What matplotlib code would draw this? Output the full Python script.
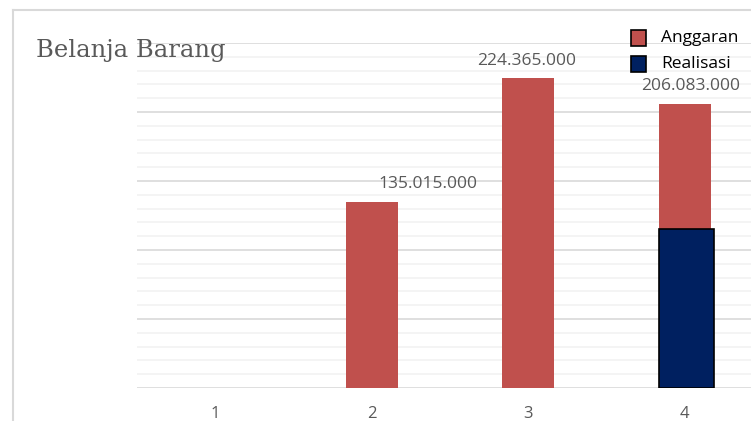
import numpy as np
import matplotlib.pyplot as plt
from matplotlib.patches import Rectangle
from matplotlib.lines import Line2D

# data
kategori = ['1', '2', '3', '4']
anggaran = [0, 135015000, 224365000, 206083000]
realisasi = [0, 0, 0, 115000000]
label_anggaran = ['', '135.015.000', '224.365.000', '206.083.000']

W, H = 751, 421
fig = plt.figure(figsize=(W / 100, H / 100), dpi=100)

# outer chart border (only left and top visible in the crop)
fig.add_artist(Line2D([13 / W, 13 / W], [0, 1 - 10 / H], color='#D9D9D9', lw=1.5))
fig.add_artist(Line2D([13 / W, 1], [1 - 10 / H, 1 - 10 / H], color='#D9D9D9', lw=1.5))

left, right = 137 / W, 763 / W
bottom, top = (H - 388) / H, (H - 43) / H
ax = fig.add_axes([left, bottom, right - left, top - bottom])

x = np.arange(len(kategori))
ax.set_xlim(-0.5, len(kategori) - 0.5)
ax.set_ylim(0, 250000000)

# gridlines
for v in np.arange(0, 250000001, 10000000):
    major = v % 50000000 == 0
    ax.axhline(v, color='#D9D9D9' if major else '#F2F2F2', lw=1.2, zorder=0)

bw = 0.33
ax.bar(x, anggaran, width=bw, color='#C0504D', zorder=2)
# realisasi only where there is a value, same left edge, slightly wider
xr = [xi for xi, r in zip(x, realisasi) if r > 0]
vr = [r for r in realisasi if r > 0]
ax.bar(np.array(xr) - bw / 2, vr, width=0.35, align='edge', color='#002060',
       edgecolor='black', lw=1.2, zorder=3)

# data labels (positions as moved in the original)
dx = [0, 0.36, -0.01, 0.04]
for i, t in enumerate(label_anggaran):
    if t:
        ax.text(x[i] + dx[i], anggaran[i] + 7000000, t, ha='center', va='bottom',
                fontsize=12.5, color='#595959', family='Open Sans')

for s in ax.spines.values():
    s.set_visible(False)
ax.set_yticks([])
ax.set_xticks(x)
ax.set_xticklabels(kategori, fontsize=12, color='#595959', family='Open Sans')
ax.tick_params(axis='x', length=0, pad=13)

fig.text(36 / W, 1 - 50 / H, 'Belanja Barang', fontsize=17.5, color='#595959',
         family='DejaVu Serif', va='center', ha='left')

# legend
for yy, col, lab, cx in [(38, '#C0504D', 'Anggaran', 699.5), (64, '#002060', 'Realisasi', 696)]:
    fig.add_artist(Rectangle((631 / W, 1 - (yy + 8) / H), 15 / W, 16 / H,
                             facecolor=col, edgecolor='black', lw=1.2,
                             transform=fig.transFigure))
    fig.text(cx / W, 1 - yy / H, lab, fontsize=12.5, color='#000000',
             family='Open Sans', va='center', ha='center')

fig.savefig('out.png', dpi=100)
